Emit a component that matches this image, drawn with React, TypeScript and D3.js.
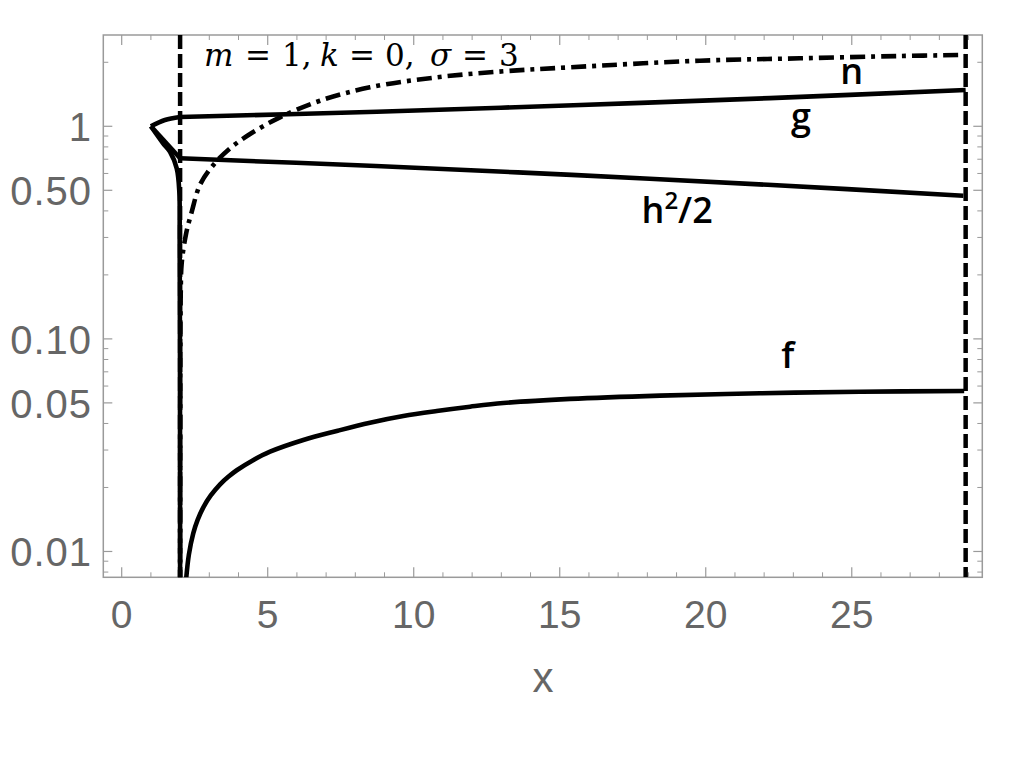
import React from "react";
import * as d3 from "d3";

// ---- data ----
const xMajorTicks = [0, 5, 10, 15, 20, 25];
const yMajorTicks = [1, 0.5, 0.1, 0.05, 0.01];
const yMajorLabels = ["1", "0.50", "0.10", "0.05", "0.01"];

const horizonX = [2, 28.9];

const gInnerX = [1, 1.48, 2];
const gInnerY = [1.0, 1.07, 1.105];
const gX = [2, 8.74, 15.47, 22.2, 28.9];
const gY = [1.105, 1.171, 1.256, 1.357, 1.481];

const hInnerX = [1, 2];
const hInnerY = [1.0, 0.707];
const hX = [2, 8.7, 15.41, 22.12, 28.82];
const hY = [0.707, 0.65, 0.5906, 0.5306, 0.4716];

const fInnerX = [1, 1.41, 1.654, 1.884, 1.973, 1.985, 1.995, 2.0];
const fInnerY = [1.0, 0.834, 0.759, 0.634, 0.4925, 0.298, 0.1, 0.005];
const fX = [2.2, 2.3, 2.45, 2.6, 2.8, 3.05, 3.37, 3.65, 3.94, 4.5, 5.08, 6.219, 7.363, 8.503, 9.644, 10.788, 11.928, 13.068, 15.353, 18.435, 21.86, 25.28, 28.85];
const fY = [0.00725, 0.00965, 0.01216, 0.01408, 0.01618, 0.01834, 0.0207, 0.02245, 0.0241, 0.02688, 0.02947, 0.03345, 0.03688, 0.04034, 0.04338, 0.0458, 0.04798, 0.0499, 0.0522, 0.0541, 0.0555, 0.0564, 0.0569];

const nX = [2.0, 2.005, 2.02, 2.055, 2.2, 2.4, 2.68, 3.14, 3.71, 4.45, 5.42, 6.79, 8.5, 10.79, 13.07, 15.35, 19.8, 23.23, 26.65, 28.85];
const nY = [0.005, 0.05, 0.158, 0.2275, 0.31, 0.397, 0.53, 0.658, 0.788, 0.93, 1.102, 1.319, 1.525, 1.70, 1.814, 1.894, 2.035, 2.088, 2.141, 2.165];

const curveLabels = [
  { text: "n", x: 25.0, y: 1.58 },
  { text: "g", x: 23.26, y: 0.971 },
  { text: "h", x: 19.02, y: 0.351 },
  { text: "f", x: 22.81, y: 0.073 },
];

// title tokens: [text, italic, left px]
const titleTokens: [string, boolean, number][] = [
  ["m", true, 204],
  ["=", false, 245],
  ["1,", false, 282],
  ["k", true, 320],
  ["=", false, 349],
  ["0,", false, 385],
  ["σ", true, 430],
  ["=", false, 462],
  ["3", false, 499],
];

export default function App() {
  const left = 103.3, right = 982.3, top = 35, bottom = 577.3;
  const x = d3.scaleLinear().domain([-0.63, 29.47]).range([left, right]);
  const y = d3.scaleLog().domain([0.00756, 2.688]).range([bottom, top]);

  const line = (xs: number[], ys: number[], curve: any = d3.curveCatmullRom.alpha(0.5)) =>
    d3
      .line<number>()
      .x((_, i) => x(xs[i]))
      .y((_, i) => y(ys[i]))
      .curve(curve)(ys) as string;

  const xMinor = d3.range(0, 30).filter((v) => !xMajorTicks.includes(v));
  const yMinor = y.ticks().filter((v) => !yMajorTicks.some((m) => Math.abs(m - v) < 1e-9));

  const frame = "#9a9a9a";
  const labelColor = "#666666";
  const sw = 4.6;

  return (
    <svg
      width={1024}
      height={768}
      style={{ position: "absolute", left: 0, top: 0, background: "#fff" }}
    >
      <defs>
        <clipPath id="plotclip">
          <rect x={left} y={top} width={right - left} height={bottom - top} />
        </clipPath>
      </defs>
      {/* frame */}
      <rect x={left} y={top} width={right - left} height={bottom - top} fill="none" stroke={frame} strokeWidth={1.5} />
      {/* x ticks bottom & top */}
      {xMajorTicks.map((v) => (
        <g key={"xm" + v}>
          <line x1={x(v)} x2={x(v)} y1={bottom} y2={bottom - 10} stroke={frame} strokeWidth={1.2} />
          <line x1={x(v)} x2={x(v)} y1={top} y2={top + 10} stroke={frame} strokeWidth={1.2} />
          <text x={x(v)} y={628} textAnchor="middle" fontFamily="Liberation Sans, Arial, sans-serif" fontSize={39} fill={labelColor}>
            {v}
          </text>
        </g>
      ))}
      {xMinor.map((v) => (
        <g key={"xn" + v}>
          <line x1={x(v)} x2={x(v)} y1={bottom} y2={bottom - 5} stroke={frame} strokeWidth={1} />
          <line x1={x(v)} x2={x(v)} y1={top} y2={top + 5} stroke={frame} strokeWidth={1} />
        </g>
      ))}
      {/* y ticks left & right */}
      {yMajorTicks.map((v, i) => (
        <g key={"ym" + v}>
          <line x1={left} x2={left + 9} y1={y(v)} y2={y(v)} stroke={frame} strokeWidth={1.2} />
          <line x1={right} x2={right - 9} y1={y(v)} y2={y(v)} stroke={frame} strokeWidth={1.2} />
          <text x={92} y={y(v) + 15} textAnchor="end" fontFamily="Liberation Sans, Arial, sans-serif" fontSize={40} letterSpacing={1} fill={labelColor}>
            {yMajorLabels[i]}
          </text>
        </g>
      ))}
      {yMinor.map((v) => (
        <g key={"yn" + v}>
          <line x1={left} x2={left + 5} y1={y(v)} y2={y(v)} stroke={frame} strokeWidth={1} />
          <line x1={right} x2={right - 5} y1={y(v)} y2={y(v)} stroke={frame} strokeWidth={1} />
        </g>
      ))}
      {/* axis label */}
      <text x={543} y={692} textAnchor="middle" fontFamily="Liberation Sans, Arial, sans-serif" fontSize={42} fill={labelColor}>
        x
      </text>

      <g clipPath="url(#plotclip)" fill="none" stroke="#000" strokeLinejoin="round">
        {/* horizons */}
        {horizonX.map((v) => (
          <line key={"hz" + v} x1={x(v)} x2={x(v)} y1={top} y2={bottom} strokeWidth={4.5} strokeDasharray="14,5" />
        ))}
        <path d={line(gInnerX, gInnerY)} strokeWidth={sw} />
        <path d={line(gX, gY)} strokeWidth={sw} />
        <path d={line(hInnerX, hInnerY, d3.curveLinear)} strokeWidth={sw} />
        <path d={line(hX, hY)} strokeWidth={sw} />
        <path d={line(fInnerX, fInnerY)} strokeWidth={sw} />
        <path d={line(fX, fY)} strokeWidth={sw} />
        <path d={line(nX, nY)} strokeWidth={sw} strokeDasharray="15,6,4,6" />
      </g>

      {/* curve labels */}
      <g fontFamily="Open Sans, sans-serif" fontWeight={600} fontSize={36} fill="#000" textAnchor="middle">
        {curveLabels.map((l) =>
          l.text === "h" ? (
            <text key={l.text} x={x(l.x)} y={y(l.y)}>
              h<tspan fontSize={24} dy={-14}>2</tspan>
              <tspan dy={14}>/2</tspan>
            </text>
          ) : (
            <text key={l.text} x={x(l.x)} y={y(l.y)}>
              {l.text}
            </text>
          )
        )}
      </g>

      {/* title */}
      <g fontFamily="DejaVu Serif, Liberation Serif, serif" fontSize={31} fill="#000">
        {titleTokens.map(([t, it, px], i) => (
          <text key={i} x={px} y={66} fontStyle={it ? "italic" : "normal"}>
            {t}
          </text>
        ))}
      </g>
    </svg>
  );
}
